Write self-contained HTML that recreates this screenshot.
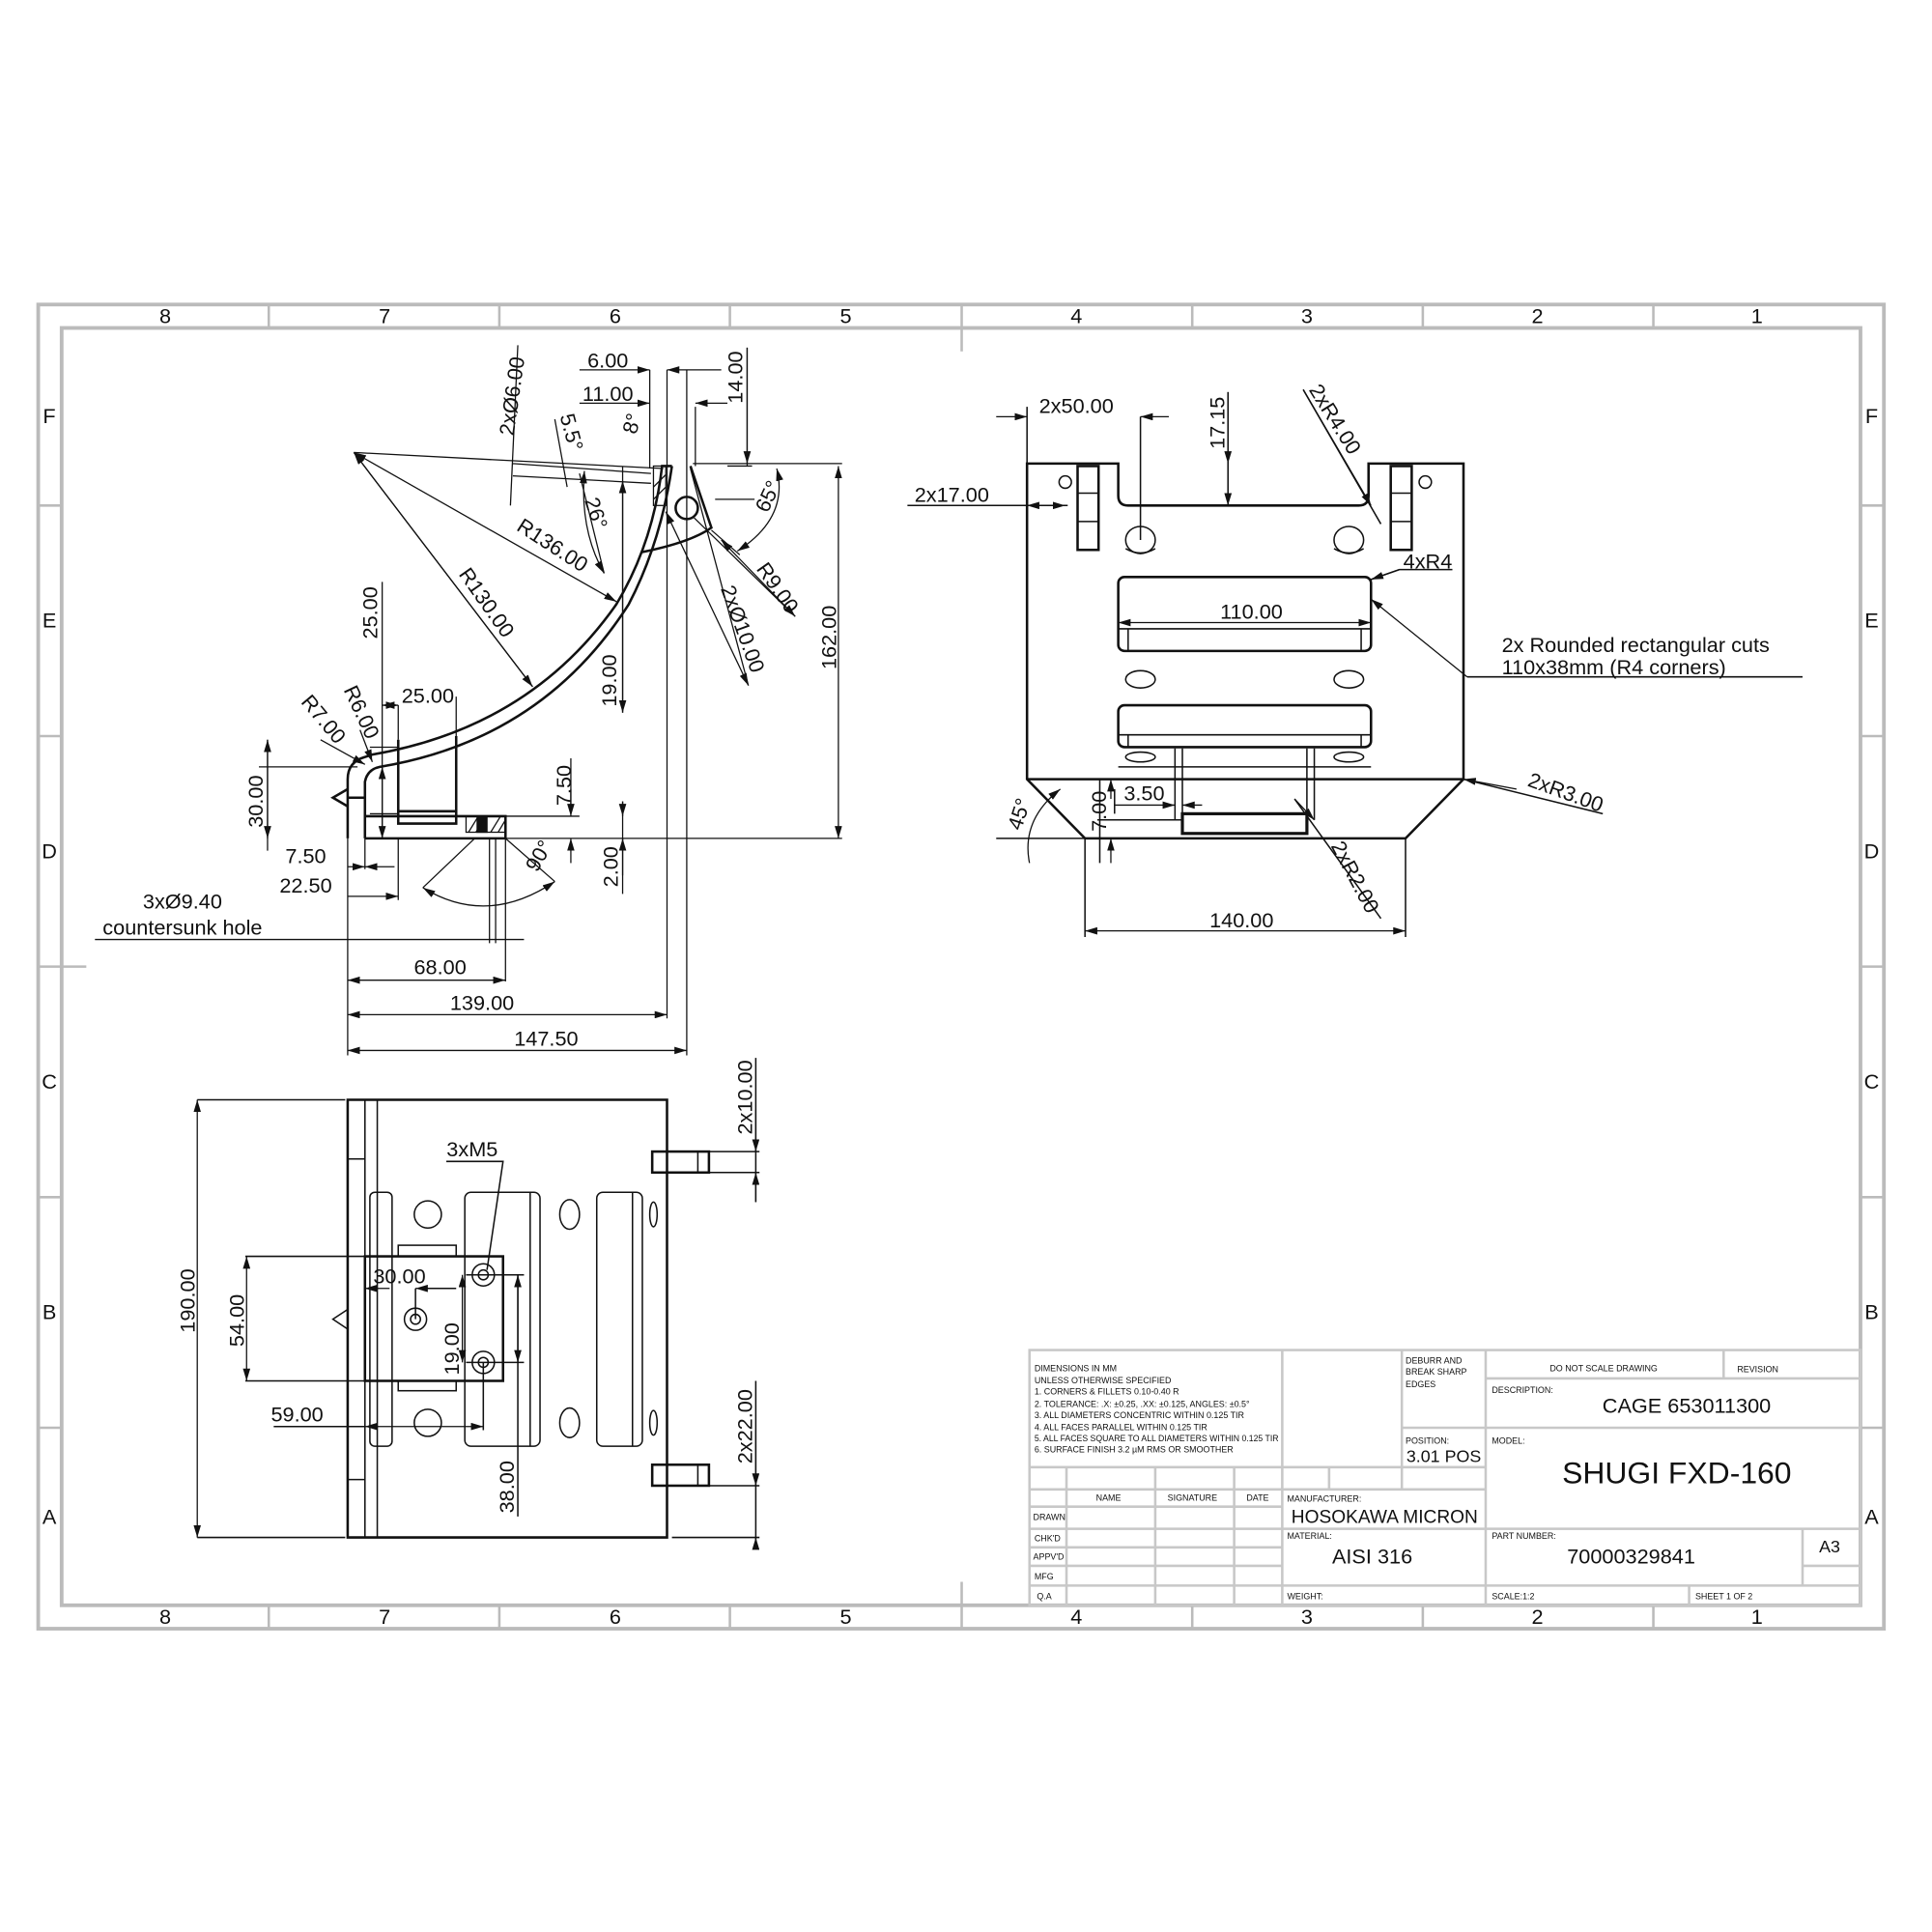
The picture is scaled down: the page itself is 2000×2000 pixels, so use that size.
<!DOCTYPE html>
<html><head><meta charset="utf-8"><style>
html,body{margin:0;padding:0;background:#fff}
svg{display:block}
text{font-family:"Liberation Sans",sans-serif;fill:#111}
</style></head><body>
<svg width="2000" height="2000" viewBox="0 0 1567 1567" xmlns="http://www.w3.org/2000/svg">
<defs>
<marker id="a" viewBox="0 0 10 6" refX="10" refY="3" markerWidth="10" markerHeight="6" orient="auto-start-reverse" markerUnits="userSpaceOnUse"><path d="M0,0L10,3L0,6z" fill="#111"/></marker>
</defs>
<rect width="1567" height="1567" fill="#fff"/>
<!-- frame -->
<g fill="none" stroke="#bbb" stroke-width="3">
<rect x="31" y="247" width="1497" height="1074"/>
<rect x="50" y="266" width="1459" height="1036"/>
</g>
<g stroke="#bbb" stroke-width="2">
<path d="M218 247V266M405 247V266M592 247V266M780 247V266M967 247V266M1154 247V266M1341 247V266"/>
<path d="M218 1302V1321M405 1302V1321M592 1302V1321M780 1302V1321M967 1302V1321M1154 1302V1321M1341 1302V1321"/>
<path d="M31 410H50M31 597H50M31 784H70M31 971H50M31 1158H50M1509 410H1528M1509 597H1528M1509 784H1528M1509 971H1528M1509 1158H1528M780 266V285M780 1283V1302"/>
</g>
<g font-size="17" text-anchor="middle" fill="#222">
<text x="134" y="262">8</text><text x="312" y="262">7</text><text x="499" y="262">6</text><text x="686" y="262">5</text><text x="873" y="262">4</text><text x="1060" y="262">3</text><text x="1247" y="262">2</text><text x="1425" y="262">1</text>
<text x="134" y="1317">8</text><text x="312" y="1317">7</text><text x="499" y="1317">6</text><text x="686" y="1317">5</text><text x="873" y="1317">4</text><text x="1060" y="1317">3</text><text x="1247" y="1317">2</text><text x="1425" y="1317">1</text>
<text x="40" y="343">F</text><text x="40" y="509">E</text><text x="40" y="696">D</text><text x="40" y="883">C</text><text x="40" y="1070">B</text><text x="40" y="1236">A</text>
<text x="1518" y="343">F</text><text x="1518" y="509">E</text><text x="1518" y="696">D</text><text x="1518" y="883">C</text><text x="1518" y="1070">B</text><text x="1518" y="1236">A</text>
</g>

<!-- ===== SIDE VIEW ===== -->
<g fill="none" stroke="#111" stroke-width="2">
<path d="M282 680V632Q282 618 296 614L302 612Q430 590 500 490Q530 440 537 378L545 378"/>
<path d="M296 680V634Q298 624 308 622Q440 600 510 490Q536 440 545 378"/>
<path d="M560 378L577 428Q560 440 520 448"/>
<circle cx="557" cy="412" r="9"/>
<path d="M296 680H410V662H296M323 600V668H370V597"/>
<path d="M323 658H370"/>
<path d="M282 647H296"/>
<path d="M282 640L270 647L282 654"/>
</g>
<g stroke="#111" stroke-width="1">
<rect x="378" y="662" width="32" height="13" fill="none" />
<rect x="387" y="662" width="8" height="13" fill="#111"/>
<rect x="530" y="378" width="10" height="32" fill="none"/>
<path d="M380 675l8-13M386 675l8-13M398 675l8-13M404 675l6-10M530 395l10-10M530 405l10-10" />
</g>
<g stroke="#111" stroke-width="1" fill="none">
<path d="M282 680V856M296 680V705M323 680V730M410 680V796M541 300V826M557 300V856M410 680H683M370 680H683"/>
<path d="M562 376H683M217 600V690M210 622H290M300 660H322M300 606H322"/>
<path d="M310 472V680M323 600V572M370 600V565M505 650V725M463 615V660M410 662H470"/>
<path d="M505 378V578M590 378H610M564 330V378M527 300V380M606 282V378M580 405H612"/>
<path d="M416 376L528 384M416 386L528 392M420 280L414 410M450 340L460 395M470 384L490 465M560 380L607 556M563 420L645 500M577 430L600 450"/>
<path d="M287 367L538 380M287 367L432 557"/>
<path d="M77 762H425M397 680V765M402 680V765"/>
<path d="M385 680L343 720M410 680L450 715"/>
</g>
<g stroke="#111" stroke-width="1" fill="none" marker-start="url(#a)" marker-end="url(#a)">
<path d="M282 852H557"/><path d="M282 823H541"/><path d="M282 795H410"/>
<path d="M680 378V680"/>
<path d="M217 600V680"/>
<path d="M310 622V680"/>
<path d="M310 572H323"/>
<path d="M505 390V578"/>
<path d="M343 720Q395 752 450 715"/>
<path d="M540 415L607 556"/>
<path d="M585 438L645 500"/>
<path d="M287 367L500 488"/>
<path d="M287 367L432 557"/>
<path d="M490 465Q470 430 474 382"/>
<path d="M598 447Q640 420 630 380"/>
</g>
<g stroke="#111" stroke-width="1" marker-end="url(#a)">
<path d="M470 300H527"/><path d="M585 300H541"/>
<path d="M470 327H527"/><path d="M590 327H564"/>
<path d="M606 282V376"/>
<path d="M282 703H296"/><path d="M320 703H296"/>
<path d="M282 727H323"/>
<path d="M463 640V662"/><path d="M463 700V680"/>
<path d="M505 650V662"/><path d="M505 710V680"/>
<path d="M260 600L296 620"/>
<path d="M292 592L302 618"/>
</g>
<g font-size="17" text-anchor="middle">
<text x="493" y="298">6.00</text>
<text x="493" y="325">11.00</text>
<text transform="translate(602,306) rotate(-90)">14.00</text>
<text transform="translate(421,322) rotate(-82)">2xØ6.00</text>
<text transform="translate(458,352) rotate(75)">5.5°</text>
<text transform="translate(518,345) rotate(-75)">8°</text>
<text transform="translate(478,418) rotate(72)">26°</text>
<text transform="translate(628,405) rotate(-65)">65°</text>
<text transform="translate(445,447) rotate(33)">R136.00</text>
<text transform="translate(390,492) rotate(55)">R130.00</text>
<text transform="translate(626,480) rotate(55)">R9.00</text>
<text transform="translate(597,512) rotate(70)">2xØ10.00</text>
<text transform="translate(678,517) rotate(-90)">162.00</text>
<text transform="translate(306,497) rotate(-90)">25.00</text>
<text transform="translate(500,552) rotate(-90)">19.00</text>
<text x="347" y="570">25.00</text>
<text transform="translate(258,587) rotate(50)">R7.00</text>
<text transform="translate(288,580) rotate(65)">R6.00</text>
<text transform="translate(213,650) rotate(-90)">30.00</text>
<text transform="translate(463,637) rotate(-90)">7.50</text>
<text transform="translate(501,703) rotate(-90)">2.00</text>
<text transform="translate(442,697) rotate(-60)">90°</text>
<text x="248" y="700">7.50</text>
<text x="248" y="724">22.50</text>
<text x="148" y="737">3xØ9.40</text>
<text x="148" y="758">countersunk hole</text>
<text x="357" y="790">68.00</text>
<text x="391" y="819">139.00</text>
<text x="443" y="848">147.50</text>
</g>

<!-- ===== FRONT VIEW ===== -->
<g fill="none" stroke="#111" stroke-width="2">
<path d="M833 376H907V402Q907 410 915 410H1102Q1110 410 1110 402V376H1187V632L1140 680H880L833 632Z"/>
<path d="M833 632H1187"/>
<rect x="874" y="378" width="17" height="68"/>
<rect x="1128" y="378" width="17" height="68"/>
<rect x="907" y="468" width="205" height="60" rx="5"/>
<rect x="907" y="572" width="205" height="34" rx="5"/>
<rect x="959" y="660" width="101" height="16" stroke-width="2.5"/>
</g>
<g fill="none" stroke="#111" stroke-width="1.2">
<path d="M874 400H891M874 423H891M1128 400H1145M1128 423H1145"/>
<circle cx="864" cy="391" r="5"/><circle cx="1156" cy="391" r="5"/>
<ellipse cx="925" cy="438" rx="12" ry="11"/><ellipse cx="1094" cy="438" rx="12" ry="11"/>
<path d="M913 445Q925 452 937 445M1082 445Q1094 452 1106 445"/>
<ellipse cx="925" cy="551" rx="12" ry="7"/><ellipse cx="1094" cy="551" rx="12" ry="7"/>
<ellipse cx="925" cy="614" rx="12" ry="4"/><ellipse cx="1094" cy="614" rx="12" ry="4"/>
<path d="M907 510H1112M915 510V528M1104 510V528M907 596H1112M915 596V606M1104 596V606"/>
<path d="M907 622H1112"/>
<path d="M953 607V665M959 607V660M1060 607V660M1066 607V665"/>
<path d="M833 376V330M925 338V438M996 318V410M950 410H1000"/>
<path d="M880 680V760M1140 680V760M808 680H880M890 665H960M904 640V660M892 632V700"/>
<path d="M1057 316L1120 425M1112 470L1135 462H1178M1190 549H1462M1187 632L1300 660M1050 648L1120 745"/>
<path d="M736 410H866"/>
</g>
<g stroke="#111" stroke-width="1" fill="none" marker-end="url(#a)">
<path d="M808 338H833"/><path d="M948 338H925"/>
<path d="M996 318V376"/><path d="M996 400V410"/>
<path d="M840 410H833"/><path d="M850 410H864"/>
<path d="M1135 462L1112 470"/>
<path d="M1190 549L1112 486"/>
<path d="M1230 640L1187 632"/>
<path d="M1057 316L1112 410"/>
<path d="M1050 648L1066 665"/>
<path d="M901 700V680"/><path d="M901 648V632"/>
<path d="M904 653H953"/><path d="M975 653H959"/>
<path d="M835 700Q828 665 860 640"/>
</g>
<g stroke="#111" stroke-width="1" marker-start="url(#a)" marker-end="url(#a)">
<path d="M907 505H1112"/><path d="M880 755H1140"/>
</g>
<g font-size="17" text-anchor="middle">
<text x="873" y="335">2x50.00</text>
<text transform="translate(993,343) rotate(-90)">17.15</text>
<text transform="translate(1078,343) rotate(58)">2xR4.00</text>
<text x="772" y="407">2x17.00</text>
<text x="1158" y="461">4xR4</text>
<text x="1015" y="502">110.00</text>
<text x="1218" y="529" text-anchor="start">2x Rounded rectangular cuts</text>
<text x="1218" y="547" text-anchor="start">110x38mm (R4 corners)</text>
<text transform="translate(1268,648) rotate(20)">2xR3.00</text>
<text transform="translate(832,662) rotate(-72)">45°</text>
<text x="928" y="649">3.50</text>
<text transform="translate(897,658) rotate(-90)">7.00</text>
<text transform="translate(1094,714) rotate(62)">2xR2.00</text>
<text x="1007" y="752">140.00</text>
</g>

<!-- ===== TOP VIEW ===== -->
<g fill="none" stroke="#111" stroke-width="2">
<path d="M282 892H541V1247H282Z"/>
<rect x="296" y="1019" width="112" height="101"/>
<rect x="529" y="934" width="46" height="17"/>
<rect x="529" y="1188" width="46" height="17"/>
</g>
<g fill="none" stroke="#111" stroke-width="1.2">
<path d="M296 892V1247M306 892V1247M282 940H296M282 1200H296M566 934V951M566 1188V1205"/>
<path d="M541 920V934M541 951V1188M541 1205V1220"/>
<rect x="300" y="967" width="18" height="206" rx="4"/>
<rect x="377" y="967" width="61" height="206" rx="5"/>
<path d="M430 967V1173"/>
<rect x="484" y="967" width="37" height="206" rx="5"/>
<path d="M513 967V1173"/>
<rect x="323" y="1010" width="47" height="9"/><rect x="323" y="1120" width="47" height="8"/>
<circle cx="347" cy="985" r="11"/><circle cx="347" cy="1154" r="11"/>
<ellipse cx="462" cy="985" rx="8" ry="12"/><ellipse cx="462" cy="1154" rx="8" ry="12"/>
<ellipse cx="530" cy="985" rx="3" ry="10"/><ellipse cx="530" cy="1154" rx="3" ry="10"/>
<circle cx="392" cy="1034" r="9"/><circle cx="392" cy="1034" r="4"/>
<circle cx="392" cy="1105" r="9"/><circle cx="392" cy="1105" r="4"/>
<circle cx="337" cy="1070" r="9"/><circle cx="337" cy="1070" r="4"/>
<path d="M282 1062L270 1070L282 1078"/>
<path d="M160 892H280M160 1247H280M199 1019H295M199 1120H295M575 934H616M575 951H616M575 1205H616M545 1247H616M613 858V975M613 1120V1250"/>
<path d="M362 942H408L395 1030M222 1157H296M392 1105V1160M378 1034H425M378 1105H425M420 1034V1230M337 1045V1070M346 1045H370"/>
</g>
<g stroke="#111" stroke-width="1" marker-start="url(#a)" marker-end="url(#a)">
<path d="M160 892V1247"/><path d="M200 1019V1120"/><path d="M375 1034V1105"/><path d="M420 1034V1105"/>
<path d="M296 1157H392"/>
</g>
<g stroke="#111" stroke-width="1" marker-end="url(#a)">
<path d="M613 900V934"/><path d="M613 975V951"/>
<path d="M613 1160V1205"/><path d="M613 1250V1247"/>
<path d="M316 1045H296"/><path d="M355 1045H337"/>
</g>
<g font-size="17" text-anchor="middle">
<text transform="translate(158,1055) rotate(-90)">190.00</text>
<text transform="translate(198,1071) rotate(-90)">54.00</text>
<text x="241" y="1153">59.00</text>
<text x="324" y="1041">30.00</text>
<text x="383" y="938">3xM5</text>
<text transform="translate(372,1094) rotate(-90)">19.00</text>
<text transform="translate(417,1206) rotate(-90)">38.00</text>
<text transform="translate(610,890) rotate(-90)">2x10.00</text>
<text transform="translate(610,1157) rotate(-90)">2x22.00</text>
</g>

<!-- ===== TITLE BLOCK ===== -->
<g fill="none" stroke="#c8c8c8" stroke-width="2">
<rect x="835" y="1095" width="674" height="207"/>
<path d="M1040 1095V1302M1137 1095V1208M1205 1095V1302M1398 1095V1118M1205 1118H1509M1205 1158H1509M1137 1158H1205M835 1190H1205M835 1208H1205M1205 1240H1509M1462 1240V1286M1462 1270H1509M835 1286H1509M1040 1240H1205M1370 1286V1302"/>
<path d="M865 1190V1302M937 1190V1302M1001 1190V1302M1078 1190V1208M835 1222H1040M835 1240H1040M835 1255H1040M835 1270H1040"/>
</g>
<g font-size="7" fill="#222">
<text x="839" y="1112">DIMENSIONS IN MM</text>
<text x="839" y="1122">UNLESS OTHERWISE SPECIFIED</text>
<text x="839" y="1131">1. CORNERS &amp; FILLETS 0.10-0.40 R</text>
<text x="839" y="1141">2. TOLERANCE: .X: ±0.25, .XX: ±0.125, ANGLES: ±0.5°</text>
<text x="839" y="1150">3. ALL DIAMETERS CONCENTRIC WITHIN 0.125 TIR</text>
<text x="839" y="1160">4. ALL FACES PARALLEL WITHIN 0.125 TIR</text>
<text x="839" y="1169" textLength="198" lengthAdjust="spacingAndGlyphs">5. ALL FACES SQUARE TO ALL DIAMETERS WITHIN 0.125 TIR</text>
<text x="839" y="1178">6. SURFACE FINISH 3.2 µM RMS OR SMOOTHER</text>
<text x="1140" y="1106">DEBURR AND</text><text x="1140" y="1115">BREAK SHARP</text><text x="1140" y="1125">EDGES</text>
<text x="1140" y="1171">POSITION:</text>
<text x="1257" y="1112">DO NOT SCALE DRAWING</text>
<text x="1409" y="1113">REVISION</text>
<text x="1210" y="1130">DESCRIPTION:</text>
<text x="1210" y="1171">MODEL:</text>
<text x="889" y="1217">NAME</text><text x="947" y="1217">SIGNATURE</text><text x="1011" y="1217">DATE</text>
<text x="838" y="1233">DRAWN</text><text x="839" y="1250">CHK'D</text><text x="838" y="1265">APPV'D</text><text x="839" y="1281">MFG</text><text x="841" y="1297">Q.A</text>
<text x="1044" y="1218">MANUFACTURER:</text>
<text x="1044" y="1248">MATERIAL:</text>
<text x="1044" y="1297">WEIGHT:</text>
<text x="1210" y="1248">PART NUMBER:</text>
<text x="1210" y="1297">SCALE:1:2</text>
<text x="1375" y="1297">SHEET 1 OF 2</text>
</g>
<g fill="#222" text-anchor="middle">
<text x="1171" y="1186" font-size="14">3.01 POS</text>
<text x="1368" y="1146" font-size="17">CAGE 653011300</text>
<text x="1360" y="1203" font-size="25">SHUGI FXD-160</text>
<text x="1123" y="1235" font-size="15">HOSOKAWA MICRON</text>
<text x="1113" y="1268" font-size="17">AISI 316</text>
<text x="1323" y="1268" font-size="17">70000329841</text>
<text x="1484" y="1259" font-size="14">A3</text>
</g>
</svg>
</body></html>
